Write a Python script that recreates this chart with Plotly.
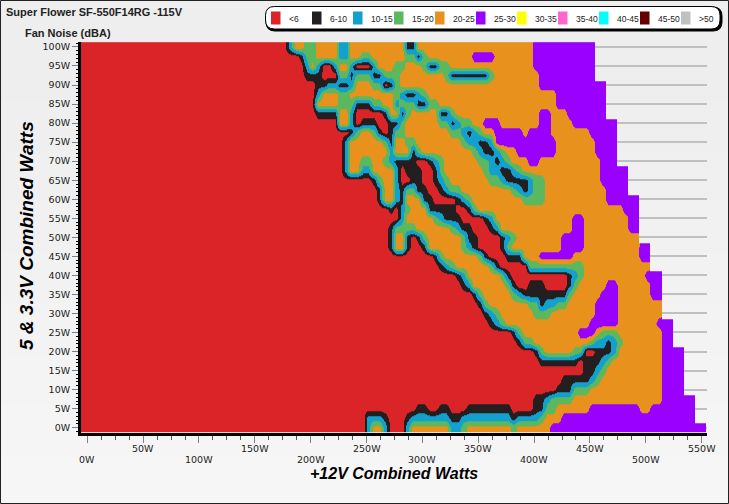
import plotly.graph_objects as go

# ---- data -------------------------------------------------------------
TITLE = "Super Flower SF-550F14RG -115V"
SUBTITLE = "Fan Noise (dBA)"
X_TITLE = "+12V Combined Watts"
Y_TITLE = "5 & 3.3V Combined Watts"

LEGEND_LABELS = ["<6", "6-10", "10-15", "15-20", "20-25", "25-30", "30-35", "35-40", "40-45", "45-50", ">50"]
LEGEND_COLORS = ["#DA2428", "#231F20", "#12A0CE", "#5CB85F", "#E8911C", "#9900FF", "#FFFF00", "#FF66CC", "#00FFFF", "#660000", "#C0C0C0"]
BAND_EDGES = [0, 6, 10, 15, 20, 25, 30, 35, 40, 45, 50, 60]

# typical measured noise (dBA) for each letter used in the rows below
NOISE = {"r": 4, "k": 8, "b": 12.5, "g": 17.5, "o": 22, "p": 28}

# load grid: +12V watts at the columns, 5V & 3.3V watts at the rows
COLUMN_WATTS = [-3.5 + 5 * i for i in range(112)]

# each row: noise letter followed by the +12V watts where that reading stops
row_100_0 = "r181 b186 o196 g202 o226 b232 o285 k292 o398 p454"
row_097_5 = "r190 k195 g205 o225 b234 o244 g253 o285 g292 k299 g305 o342 p363 o398 p454"
row_095_0 = "r193 b198 o204 b209 r220 b226 o234 b239 r253 b260 o276 g283 o298 g304 k316 g323 o400 p454"
row_092_5 = "r193 k207 r224 g236 k239 g255 k266 g280 o318 g322 k360 g364 o403 p454"
row_090_0 = "r204 k216 b225 k232 b238 o253 g262 k265 r270 k273 g277 o405 p464"
row_087_5 = "r202 b207 o225 g235 o272 g280 b286 k293 b298 g303 o418 p464"
row_085_0 = "r202 b206 o224 g239 k254 g262 o272 b281 g293 k305 g313 o421 p464"
row_082_5 = "r205 k222 o233 b238 r262 k268 o277 k283 g290 o312 k323 g330 o405 p414 o427 p464"
row_080_0 = "r222 k226 o233 b239 r243 k258 r271 k278 g285 o316 g322 k330 b335 g342 o354 p367 o403 p414 o435 p474"
row_077_5 = "r232 k240 g243 o256 g260 k262 r270 k273 g285 o325 g332 b338 k345 b350 g355 o364 p389 o396 p414 o450 p474"
row_075_0 = "r229 b234 o265 g268 k273 b276 o286 g294 o336 g341 b347 k358 b362 o364 p417 o452 p474"
row_072_5 = "r230 b234 o267 b273 o287 k293 g299 o343 g348 b353 k363 b368 g373 o384 p417 o455 p474"
row_070_0 = "r230 b234 o246 g252 o266 g270 b272 g275 k292 r304 k310 b314 g318 o350 g357 b363 k371 b375 g380 o396 p403 o457 p474"
row_067_5 = "r228 b232 o245 b252 o273 b277 k280 r285 k297 r309 k313 g318 o352 g358 b368 k380 b384 g390 o460 p484"
row_065_0 = "r256 k260 g263 o274 b278 k280 r288 k297 r311 k316 b320 g325 o360 g368 b375 k393 b400 g411 o460 p484"
row_062_5 = "r259 k262 g265 o274 b277 r279 k283 g296 k302 r314 k318 b325 g333 o378 g382 b387 k395 b400 g411 o462 p484"
row_060_0 = "r260 k263 g265 o274 b277 k282 g286 o297 g300 k311 r330 k334 b338 g344 o387 g411 o465 p494"
row_057_5 = "r269 k274 r278 b284 g287 o302 g306 k329 r338 k343 b346 g351 o480 p494"
row_055_0 = "r279 b285 o307 g314 b320 k334 r353 k358 b362 g366 o435 p444 o482 p494"
row_052_5 = "r271 k274 g287 k291 g294 o325 g329 b332 k343 r359 k363 b367 g371 o435 p444 o485 p494"
row_050_0 = "r271 k274 b276 o285 k287 r293 k297 b300 g305 o335 g341 k347 r371 k375 b378 g382 o426 p444 o494"
row_047_5 = "r271 k275 o284 k288 r299 k302 g305 o336 g341 b344 k351 r371 k375 g378 o426 p444 o493 p505"
row_045_0 = "r308 k312 b314 g317 o347 g352 k358 r375 k387 b391 o405 p433 o495 p505"
row_042_5 = "r316 k320 b326 g331 o357 g362 b366 k370 r394 g442 o505"
row_040_0 = "r327 k332 b337 g340 o369 g372 b375 k378 r430 k435 b438 g442 o500 p513"
row_037_5 = "r335 k339 b342 g345 o375 g378 k383 r392 k408 r429 k433 b436 g440 o465 p474 o503 p513"
row_035_0 = "r344 k348 b351 g354 o380 g385 b391 k428 b431 g435 o460 p474 o505 p513"
row_032_5 = "r350 k354 g358 o394 g403 k410 b420 g430 o456 p474 o513"
row_030_0 = "r356 k360 b363 g368 o400 g412 o452 p474 o513"
row_027_5 = "r361 k365 b368 g372 o450 p474 o510 p524"
row_025_0 = "r378 k383 b386 g390 o437 p453 o461 g472 o512 p524"
row_022_5 = "r383 k387 b391 g399 o450 g456 b463 k470 b474 g477 o512 p524"
row_020_0 = "r399 k403 b405 g408 o436 g442 b445 r455 k468 b472 g475 o515 p534"
row_017_5 = "r405 k440 r446 k459 b463 g467 o515 p534"
row_015_0 = "r446 k455 b458 g463 o515 p534"
row_012_5 = "r425 k450 b454 g457 o515 p534"
row_010_0 = "r420 k432 b435 g447 o515 p534"
row_007_5 = "r400 k410 b414 g432 o512 p544"
row_005_0 = "r296 k304 r313 k326 r339 k378 r400 k410 g421 o447 p492 o506 p544"
row_002_5 = "r248 k251 b265 k271 r283 k288 b326 k333 b378 k384 b404 g411 o422 p544"
row_000_0 = "r248 b253 o265 b270 r283 b291 o325 b333 g339 o377 g383 o416 p554"

ROWS = {
    0: row_000_0, 2.5: row_002_5, 5: row_005_0, 7.5: row_007_5, 10: row_010_0, 12.5: row_012_5,
    15: row_015_0, 17.5: row_017_5, 20: row_020_0, 22.5: row_022_5, 25: row_025_0, 27.5: row_027_5,
    30: row_030_0, 32.5: row_032_5, 35: row_035_0, 37.5: row_037_5, 40: row_040_0, 42.5: row_042_5,
    45: row_045_0, 47.5: row_047_5, 50: row_050_0, 52.5: row_052_5, 55: row_055_0, 57.5: row_057_5,
    60: row_060_0, 62.5: row_062_5, 65: row_065_0, 67.5: row_067_5, 70: row_070_0, 72.5: row_072_5,
    75: row_075_0, 77.5: row_077_5, 80: row_080_0, 82.5: row_082_5, 85: row_085_0, 87.5: row_087_5,
    90: row_090_0, 92.5: row_092_5, 95: row_095_0, 97.5: row_097_5, 100: row_100_0,
}

X_TICKS = list(range(0, 551, 50))
Y_TICKS = list(range(0, 101, 5))


def read_row(text):
    steps = [(s[0], float(s[1:])) for s in text.split()]
    values = []
    for watts in COLUMN_WATTS:
        level = None
        for letter, stop in steps:
            if watts < stop:
                level = NOISE[letter]
                break
        values.append(level)
    return values


row_watts = list(ROWS)
z = [read_row(ROWS[w]) for w in row_watts]

# stepped colour scale: one flat band per legend entry
zmin, zmax = BAND_EDGES[0], BAND_EDGES[-1]
colorscale = []
for low, high, color in zip(BAND_EDGES[:-1], BAND_EDGES[1:], LEGEND_COLORS):
    colorscale.append([(low - zmin) / (zmax - zmin), color])
    colorscale.append([(high - zmin) / (zmax - zmin), color])

# ---- layout helpers ---------------------------------------------------
W, H = 729, 504
L, R, T, B = 81, 707, 42, 433


def px(x):
    return (x - L) / (R - L)


def py(y):
    return (B - y) / (B - T)


fig = go.Figure(go.Heatmap(
    x=COLUMN_WATTS, y=row_watts, z=z, zmin=zmin, zmax=zmax,
    colorscale=colorscale, showscale=False, zsmooth="best", hoverongaps=False,
))

shapes = []
# soft vertical shading of the page
for i in range(10):
    shade = 238 + int(i * 8 / 9)
    shapes.append(dict(type="rect", xref="paper", yref="paper", layer="below",
                       x0=px(0), x1=px(W), y0=py(i * H / 10), y1=py((i + 1) * H / 10),
                       fillcolor=f"rgb({shade},{shade},{shade})", line_width=0))
# outer frame
shapes.append(dict(type="rect", xref="paper", yref="paper", layer="above",
                   x0=px(0.5), x1=px(W - 0.5), y0=py(0.5), y1=py(H - 0.5),
                   line=dict(color="#222222", width=1), fillcolor="rgba(0,0,0,0)"))


def rounded(x0, y0, x1, y1, r):
    a, b, c, d = px(x0), px(x1), py(y0), py(y1)
    rx, ry = r / (R - L), r / (B - T)
    return (f"M {a + rx} {c} L {b - rx} {c} Q {b} {c} {b} {c - ry} L {b} {d + ry} Q {b} {d} {b - rx} {d} "
            f"L {a + rx} {d} Q {a} {d} {a} {d + ry} L {a} {c - ry} Q {a} {c} {a + rx} {c} Z")


shapes.append(dict(type="path", xref="paper", yref="paper", layer="above", path=rounded(266, 7, 722, 31, 9),
                   fillcolor="#000000", line=dict(color="#000000", width=1)))
shapes.append(dict(type="path", xref="paper", yref="paper", layer="above", path=rounded(265.5, 6.5, 720, 29, 9),
                   fillcolor="#FFFFFF", line=dict(color="#000000", width=1)))

annotations = []


def label(text, x, y, size, family="Liberation Sans", anchor="left", color="#222222", angle=0, bold=False, italic=False):
    if bold:
        text = f"<b>{text}</b>"
    if italic:
        text = f"<i>{text}</i>"
    annotations.append(dict(text=text, xref="paper", yref="paper", x=px(x), y=py(y), xanchor=anchor, yanchor="middle",
                            showarrow=False, textangle=angle, align="left",
                            font=dict(size=size, family=family, color=color)))


for i, (name, color) in enumerate(zip(LEGEND_LABELS, LEGEND_COLORS)):
    x0 = 271 + 41 * i
    shapes.append(dict(type="rect", xref="paper", yref="paper", layer="above",
                       x0=px(x0), x1=px(x0 + 9.5), y0=py(11.5), y1=py(24.5), fillcolor=color, line_width=0))
    label(name.replace("<", "&lt;"), x0 + 15.5, 18.5, 8.5)

label(TITLE, 4, 12, 11, bold=True)
label(SUBTITLE, 23, 33, 11, bold=True)
label(X_TITLE, 394, 474, 16, anchor="center", color="#000000", bold=True, italic=True)
label(Y_TITLE, 26, 236, 19, anchor="center", color="#000000", angle=-90, bold=True, italic=True)

# staggered +12V tick labels on two lines, anchored to the axis positions
for v in X_TICKS:
    annotations.append(dict(text=f"{v}W", xref="x", yref="paper", x=v, y=py(448 if v % 100 else 459),
                            xanchor="center", yanchor="middle", showarrow=False,
                            font=dict(size=9.5, family="DejaVu Sans", color="#222222")))

fig.update_layout(
    width=W, height=H, margin=dict(l=L, r=W - R, t=T, b=H - B, pad=0),
    paper_bgcolor="#F0F0F0", plot_bgcolor="rgba(0,0,0,0)", shapes=shapes, annotations=annotations,
    font=dict(family="DejaVu Sans", size=9.5, color="#222222"),
    xaxis=dict(range=[-5.6, 554.8], tickmode="array", tickvals=X_TICKS, showticklabels=False, ticks="outside",
               ticklen=7, tickcolor="#808080", showgrid=False, zeroline=False, showline=True,
               linecolor="#000000", linewidth=3, fixedrange=True,
               minor=dict(dtick=12.5, ticks="outside", ticklen=4, tickcolor="#555555", showgrid=False)),
    yaxis=dict(range=[-1.4, 101.3], tickmode="array", tickvals=Y_TICKS, ticktext=[f"{v}W" for v in Y_TICKS],
               ticks="outside", ticklen=6, tickcolor="#808080", showgrid=True, gridcolor="#C0C0C0", gridwidth=1.5,
               zeroline=False, showline=True, linecolor="#000000", linewidth=3, fixedrange=True,
               minor=dict(dtick=1, ticks="outside", ticklen=2, tickcolor="#000000", showgrid=False)),
)

fig.write_html("out.html", config={"displayModeBar": False},
               post_script="document.body.style.margin='0';document.body.style.overflow='hidden';")
